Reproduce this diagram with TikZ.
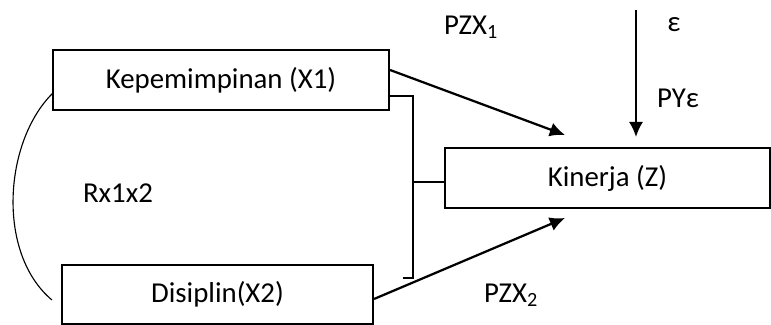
\documentclass[tikz,border=0pt]{standalone}
\usepackage{fontspec}
\setmainfont{Carlito}
\usetikzlibrary{positioning,arrows.meta,calc}
\tikzset{>={Latex[length=3.8mm,width=3.6mm]}}
\tikzset{varbox/.style={draw,line width=1.5pt,inner sep=0pt,font=\fontsize{20.5}{24}\selectfont}}
\tikzset{lbl/.style={font=\fontsize{20.5}{24}\selectfont,inner sep=0pt}}

\begin{document}
\begin{tikzpicture}[>={Latex[length=3.8mm,width=3.6mm]}]
        \useasboundingbox (0,0) rectangle (19.275,8.125);
        % variables
        \node[varbox,minimum width=8.4cm,minimum height=1.5cm] at (5.525,6.125) (X1) {Kepemimpinan (X1)};
        \node[varbox,minimum width=7.775cm,minimum height=1.475cm] at (5.4375,0.7625) (X2) {Disiplin(X2)};
        \node[varbox,minimum width=8.125cm,minimum height=1.5cm] at (15.1875,3.675) (Z) {Kinerja (Z)};
        % arrow ends
        \coordinate (p1) at (14.125,4.75);
        \coordinate (p2) at (14.125,2.675);
        \coordinate (e0) at (15.9,7.875);
        \coordinate (e1) at (15.9,4.7);
        % paths
        \draw[->,line width=1.6pt] ($(X1.east)+(0,0.25)$) -- (p1);
        \draw[->,line width=1.6pt] ($(X2.east)+(0,-0.1125)$) -- (p2);
        \draw[->,line width=1.6pt] (e0) -- (e1);
        % bracket between X1, X2 and Z
        \draw[line width=1.5pt] ($(X1.east)+(0,-0.4)$) -- (10.325,5.725) -- (10.325,1.175) -- (10.075,1.175);
        \draw[line width=1.5pt] (10.325,3.575) -- (Z.west |- 10.325,3.575);
        % correlation curve
        \draw[line width=0.8pt] ($(X1.west)+(0.025,-0.325)$) .. controls (0.1,4.6) and (-0.1,1.8) .. ($(X2.west)+(-0.225,-0.1375)$);
        % labels
        \node[lbl] at (11.775,7.45) (lpzx1) {PZX\textsubscript{1}};
        \node[lbl] at (12.775,0.75) (lpzx2) {PZX\textsubscript{2}};
        \node[lbl] at (16.85,7.5) (leps) {ε};
        \node[lbl] at (16.95,5.675) (lpye) {PYε};
        \node[lbl] at (2.95,3.3) (lrx) {Rx1x2};
    \end{tikzpicture}
\end{document}
